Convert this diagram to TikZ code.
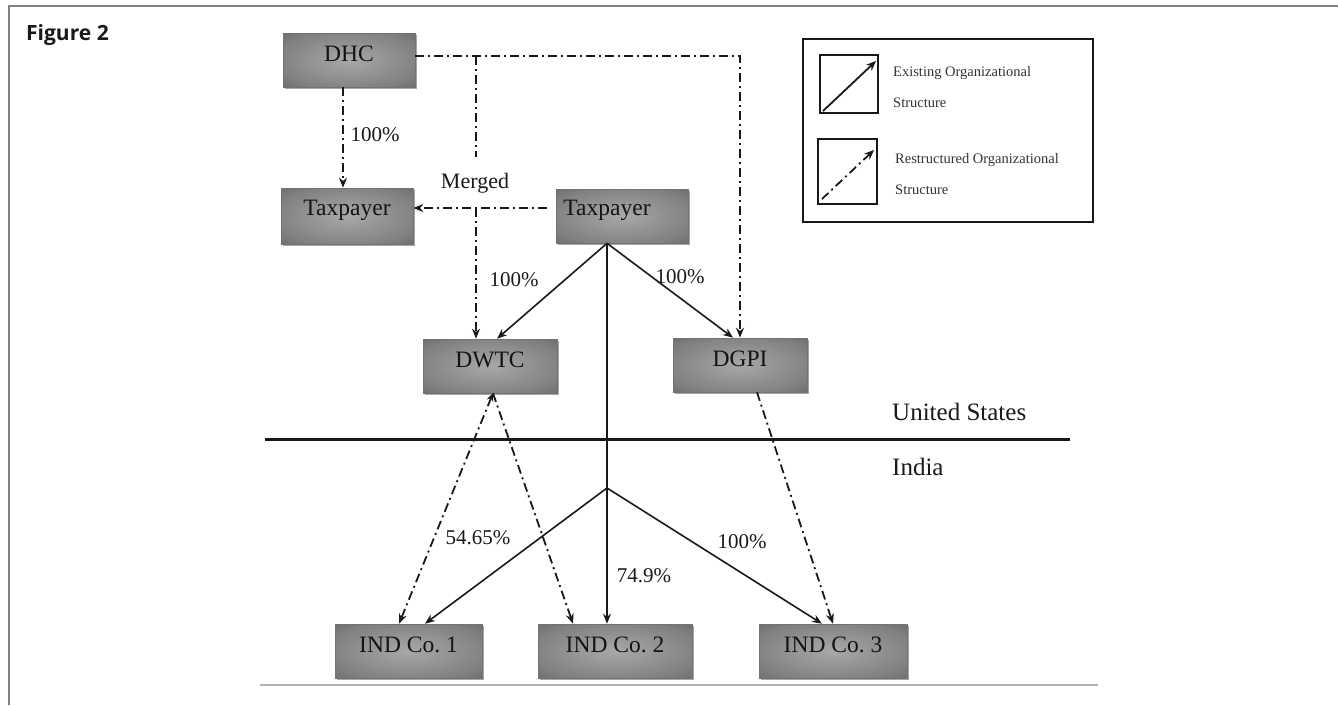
\documentclass[tikz,border=0pt]{standalone}
\usepackage{fontspec}
\setmainfont{Liberation Serif}
\newfontfamily\figfont{Open Sans}
\usetikzlibrary{arrows.meta,shadows}
\definecolor{boxin}{gray}{0.66}
\definecolor{boxmid}{gray}{0.50}
\definecolor{boxout}{gray}{0.30}
\definecolor{framegray}{gray}{0.50}
\definecolor{txt}{gray}{0.10}
\pgfdeclareradialshading{boxshade}{\pgfpoint{0bp}{0bp}}{color(0bp)=(boxin); color(28bp)=(boxmid); color(50bp)=(boxout); color(80bp)=(boxout)}
\newcommand\txtup[1]{\raisebox{6pt}[\height][\depth]{#1}}
\begin{document}
\begin{tikzpicture}[x=1pt,y=-1pt,
  box/.style={shading=boxshade, draw=black!55, line width=0.6pt, minimum height=54pt, inner sep=0pt,
    text=black!92, font=\fontsize{23.5}{26}\selectfont,
    drop shadow={shadow xshift=1.5pt, shadow yshift=-2pt, fill=black, opacity=0.35}},
  sa/.style={line width=1.6pt, draw=txt, -{Stealth[length=10pt,width=8pt]}},
  sl/.style={line width=1.6pt, draw=txt},
  dd/.style={line width=1.8pt, draw=txt, dash pattern=on 9pt off 4pt on 2pt off 4pt},
  dda/.style={dd, -{Stealth[length=10pt,width=8pt]}},
  lbl/.style={font=\fontsize{21}{24}\selectfont, text=txt, inner sep=0pt},
  big/.style={font=\fontsize{25}{28}\selectfont, text=txt, inner sep=0pt},
  legtxt/.style={font=\fontsize{14.5}{17}\selectfont, text=black!80, inner sep=0pt, anchor=west},
  legbox/.style={draw=txt, line width=2.2pt, inner sep=0pt}
]
\useasboundingbox (0,0) rectangle (1338,705);
\fill[white] (0,0) rectangle (1338,705);
% outer frame (top and left)
\draw[framegray, line width=2pt] (9,705) -- (9,5.5) -- (1338,5.5);
\node[anchor=base west, inner sep=0pt, text=txt, font=\figfont\bfseries\fontsize{21}{25}\selectfont] (fig) at (26,40) {Figure 2};
\draw[black!30, line width=1.2pt] (260,685) -- (1098,685);

% boxes
\node[box, minimum width=132pt] (dhc) at (349,60) {\txtup{DHC}};
\node[box, minimum width=132pt, minimum height=56pt] (tpl) at (347,216) {\txtup{Taxpayer}};
\node[box, minimum width=132pt] (tpc) at (622,216) {\txtup{Taxpayer\hspace{30pt}}};
\node[box, minimum width=134pt] (dwtc) at (490,366) {\txtup{DWTC}};
\node[box, minimum width=134pt] (dgpi) at (740,365) {\txtup{DGPI}};
\node[box, minimum width=147pt] (ind1) at (408.5,651) {\txtup{IND Co.~1}};
\node[box, minimum width=154pt] (ind2) at (615,651) {\txtup{IND Co.~2}};
\node[box, minimum width=148pt] (ind3) at (833,651) {\txtup{IND Co.~3}};

% helper coordinates
\coordinate (c1) at (740,56);
\coordinate (m1) at (476,56);
\coordinate (m2) at (476,157);
\coordinate (mg) at (476,208);
\coordinate (ts) at ([xshift=-15pt]tpc.south);
\coordinate (sp) at (607,488);
\coordinate (hl) at (265,439);
\coordinate (hr) at (1070,439);

% border line
\draw[txt, line width=3pt] (hl) -- (hr);

% restructured (dash-dot) connectors
\draw[dda] ([xshift=-6pt]dhc.south) -- ([xshift=-4pt]tpl.north);
\draw[dda] ([yshift=4pt]dhc.east) -- (c1) -- (dgpi.north);
\draw[dd] (m1) -- (m2);
\draw[dda] ([xshift=-9pt,yshift=8pt]tpc.west) -- ([yshift=8pt]tpl.east);
\draw[dda] (mg) -- ([xshift=-14pt]dwtc.north);
\draw[dd, {Stealth[length=8pt,width=7pt]}-{Stealth[length=10pt,width=8pt]}] ([xshift=3pt]dwtc.south) -- ([xshift=-9.5pt]ind1.north);
\draw[dda] ([xshift=3pt]dwtc.south) -- ([xshift=-42pt]ind2.north);
\draw[dda] ([xshift=17pt]dgpi.south) -- (ind3.north);

% existing (solid) connectors
\draw[sa] (ts) -- ([xshift=7pt]dwtc.north);
\draw[sa] (ts) -- ([xshift=-7pt]dgpi.north);
\draw[sl] (ts) -- (sp);
\draw[sa] (sp) -- ([xshift=16.5pt]ind1.north);
\draw[sa] (sp) -- ([xshift=-8pt]ind2.north);
\draw[sa] (sp) -- ([xshift=-11pt]ind3.north);

% labels
\node[lbl] (p0) at (375,135) {100\%};
\node[lbl] (p1) at (514,280) {100\%};
\node[lbl] (p2) at (680,277) {100\%};
\node[lbl] (p3) at (478,538) {54.65\%};
\node[lbl] (p4) at (644,576) {74.9\%};
\node[lbl] (p5) at (742,542) {100\%};
\node[lbl, font=\fontsize{22}{25}\selectfont] (merged) at (475,183) {Merged};
\node[big, anchor=west] (us) at (892,412) {United States};
\node[big, anchor=west] (india) at (892,467) {India};

% legend
\node[draw=txt, line width=2pt, minimum width=290pt, minimum height=183pt, inner sep=0pt] (leg) at (948,130.5) {};
\node[legbox, minimum width=58pt, minimum height=58pt] (lb1) at (849,84) {};
\node[legbox, minimum width=59pt, minimum height=65pt] (lb2) at (847.5,171.5) {};
\draw[sa, line width=1.8pt] ([shift={(4pt,3pt)}]lb1.south west) -- ([shift={(-3pt,-7pt)}]lb1.north east);
\draw[dda, line width=1.8pt] ([shift={(5pt,6pt)}]lb2.south west) -- ([shift={(-4pt,-12pt)}]lb2.north east);
\node[legtxt] (l1a) at (893,73) {Existing Organizational};
\node[legtxt] (l1b) at (893,103) {Structure};
\node[legtxt] (l2a) at (895,160) {Restructured Organizational};
\node[legtxt] (l2b) at (895,190) {Structure};
\end{tikzpicture}
\end{document}
